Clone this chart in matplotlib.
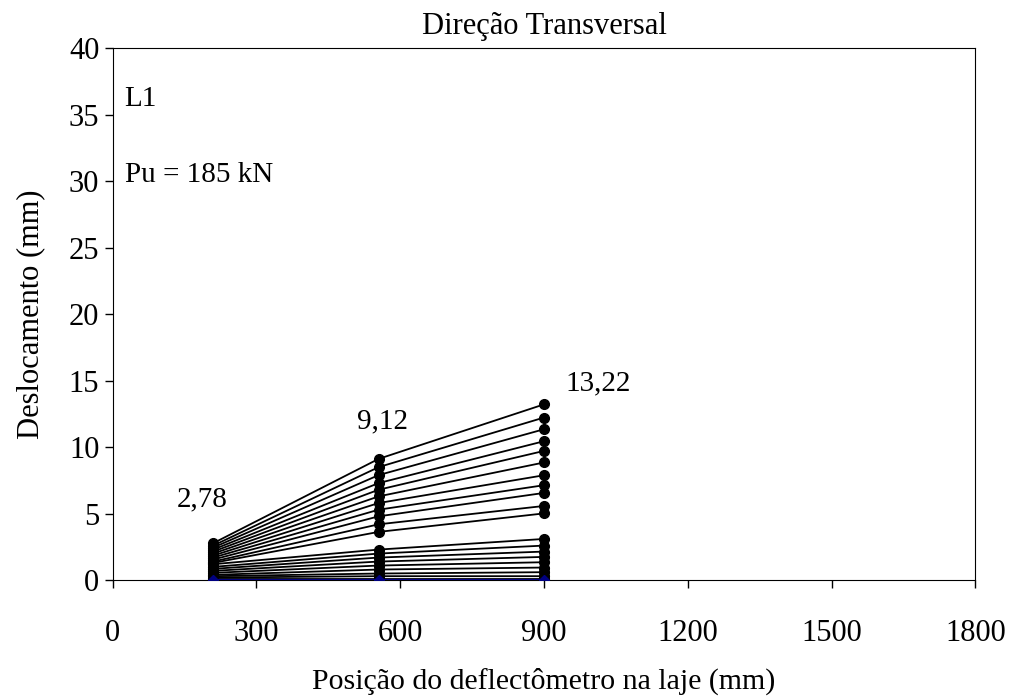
import matplotlib.pyplot as plt

plt.rcParams['font.family'] = ['Liberation Serif', 'DejaVu Serif']

# posicoes dos deflectometros (mm)
posicoes = [210, 555, 900]

# deslocamentos (mm) em cada posicao, por etapa de carga
d_210 = [0.00, 0.10, 0.20, 0.30, 0.40, 0.55, 0.70, 0.85, 1.00, 1.20,
         1.30, 1.40, 1.55, 1.70, 1.85, 2.00, 2.15, 2.30, 2.45, 2.60, 2.78]
d_555 = [0.00, 0.10, 0.30, 0.50, 0.80, 1.10, 1.40, 1.70, 2.00, 2.30,
         3.63, 4.20, 4.80, 5.30, 5.80, 6.30, 6.80, 7.30, 7.90, 8.50, 9.12]
d_900 = [0.00, 0.10, 0.30, 0.60, 0.95, 1.35, 1.75, 2.15, 2.60, 3.10,
         5.02, 5.58, 6.56, 7.14, 7.89, 8.85, 9.72, 10.45, 11.35, 12.23, 13.22]

fig, ax = plt.subplots(figsize=(10.14, 6.99), dpi=100)
fig.subplots_adjust(left=0.111, right=0.962, bottom=0.170, top=0.931)

for i in range(1, len(d_210)):
    ax.plot(posicoes, [d_210[i], d_555[i], d_900[i]], color='black', lw=1.3,
            marker='o', markersize=7)
ax.plot(posicoes, [d_210[0], d_555[0], d_900[0]], color='#000080', lw=1.5,
        marker='D', markersize=5, zorder=3)

ax.set_xlim(0, 1800)
ax.set_ylim(0, 40)
ax.set_xticks(range(0, 1801, 300))
ax.set_yticks(range(0, 41, 5))
ax.tick_params(labelsize=22, direction='out', length=6, width=1)
ax.tick_params(axis='x', pad=22)
ax.set_xlabel('Posição do deflectômetro na laje (mm)', fontsize=21.5, labelpad=14)
ax.set_ylabel('Deslocamento (mm)', fontsize=22, labelpad=17)
ax.set_title('Direção Transversal', fontsize=22, pad=10)

ax.text(25, 36.2, 'L1', fontsize=21, va='center')
ax.text(25, 30.5, 'Pu = 185 kN', fontsize=21, va='center')
ax.text(134, 6.1, '2,78', fontsize=21, va='center')
ax.text(509, 11.95, '9,12', fontsize=21, va='center')
ax.text(944, 14.8, '13,22', fontsize=21, va='center')

fig.savefig('out.png', dpi=100)
